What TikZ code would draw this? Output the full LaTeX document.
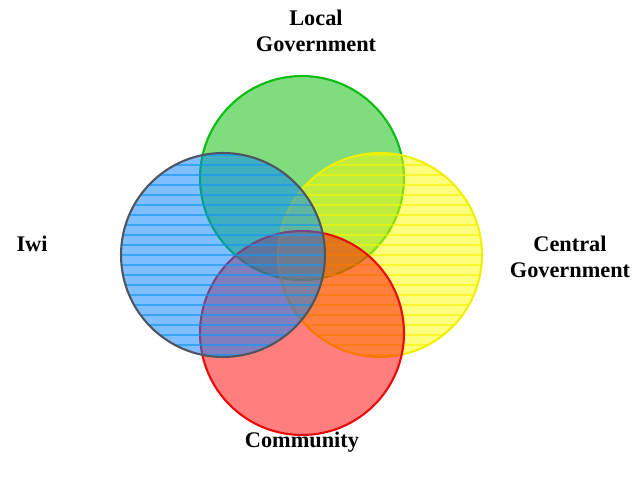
\documentclass[tikz,border=0pt]{standalone}
\usepackage{fontspec}
\setmainfont{Liberation Serif}
\usepackage{tikz}

\definecolor{grnfill}{RGB}{0,185,0}
\definecolor{grnline}{RGB}{10,190,20}
\definecolor{bluefill}{RGB}{0,128,255}
\definecolor{blueline}{RGB}{80,85,95}
\definecolor{bluehatch}{RGB}{20,150,245}
\definecolor{yelfill}{RGB}{255,255,0}
\definecolor{yelline}{RGB}{240,240,0}
\definecolor{yelhatch}{RGB}{245,245,0}
\definecolor{redfill}{RGB}{255,0,0}
\definecolor{redline}{RGB}{235,10,10}

\begin{document}
\begin{tikzpicture}[x=0.02cm, y=-0.02cm, thick,
    set/.style = {circle, minimum size=4.08cm, inner sep=0pt, line width=1.2pt, fill opacity=0.5},
    hatch/.style = {path picture={
        \foreach \k in {-10,...,10}
          \draw[#1, line width=0.7pt, draw opacity=0.65] ([yshift=-\k*0.2cm]path picture bounding box.west) -- ++(4.2cm,0);}},
    lab/.style = {font=\fontsize{12.7}{14.5}\selectfont\bfseries, align=center}]
    \useasboundingbox (0,0) rectangle (637,482);

    \node[set, draw=grnline, fill=grnfill] (local) at (302,178) {};
    \node[set, draw=yelline, fill=yelfill, hatch=yelhatch] (central) at (380,255) {};
    \node[set, draw=redline, fill=redfill] (comm) at (302,333) {};
    \node[set, draw=blueline, fill=bluefill, hatch=bluehatch] (iwi) at (223,255) {};

    \node[lab] (locallab) at (316,31) {Local\\Government};
    \node[lab] (centrallab) at (570,257) {Central\\Government};
    \node[lab] (iwilab) at (32,244) {Iwi};
    \node[lab] (commlab) at (302,442) {Community};
\end{tikzpicture}
\end{document}
